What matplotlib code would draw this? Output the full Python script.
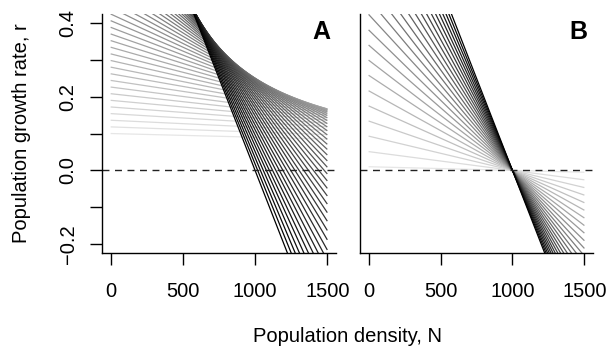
import numpy as np
import matplotlib
matplotlib.use("Agg")
import matplotlib.pyplot as plt

plt.rcParams['font.family'] = ['Liberation Sans', 'DejaVu Sans']

# Panel A: intercept r0 and carrying capacity K of each line (r0*K roughly const)
r0_a = [0.100, 0.118, 0.136, 0.154, 0.172, 0.190, 0.208, 0.226, 0.244, 0.262,
        0.280, 0.298, 0.316, 0.334, 0.352, 0.370, 0.388, 0.406, 0.424, 0.442,
        0.460, 0.478, 0.496, 0.514, 0.532, 0.550, 0.568, 0.586, 0.604, 0.622,
        0.640, 0.658, 0.676, 0.694, 0.712, 0.730, 0.748, 0.766, 0.784, 0.802,
        0.820, 0.838, 0.856, 0.874, 0.892, 0.910, 0.928, 0.946, 0.964, 0.982,
        1.000]
K_a = [10000, 8475, 7353, 6494, 5814, 5263, 4808, 4425, 4098, 3817,
       3571, 3356, 3165, 2994, 2841, 2703, 2577, 2463, 2358, 2262,
       2174, 2092, 2016, 1946, 1880, 1818, 1761, 1706, 1656, 1608,
       1563, 1520, 1479, 1441, 1404, 1370, 1337, 1305, 1276, 1247,
       1220, 1193, 1168, 1144, 1121, 1099, 1078, 1057, 1037, 1018,
       1000]

# Panel B: same K for all lines, intercept varies
r0_b = [0.010, 0.051, 0.093, 0.134, 0.175, 0.216, 0.258, 0.299, 0.340, 0.381,
        0.423, 0.464, 0.505, 0.546, 0.588, 0.629, 0.670, 0.711, 0.753, 0.794,
        0.835, 0.876, 0.918, 0.959, 1.000]
K_b = [1000] * 25

N = np.array([0, 1500])
xticks = [0, 500, 1000, 1500]
yticks = [-0.2, -0.1, 0.0, 0.1, 0.2, 0.3, 0.4]
ylabels = ['\u22120.2', '', '0.0', '', '0.2', '', '0.4']

fig = plt.figure(figsize=(6.07, 3.5), dpi=100)
ax_a = fig.add_axes([0.168, 0.277, 0.3855, 0.683])
ax_b = fig.add_axes([0.593, 0.277, 0.384, 0.683])


def draw_panel(ax, r0s, Ks, label):
    n = len(r0s)
    for i, (r0, K) in enumerate(zip(r0s, Ks)):
        g = 0.9 * (1 - i / (n - 1))
        ax.plot(N, r0 * (1 - N / K), color=(g, g, g), lw=0.9, solid_capstyle='butt')
    ax.axhline(0, color='#222222', lw=1.0, dashes=(5, 4))
    ax.set_xlim(-60, 1560)
    ax.set_ylim(-0.224, 0.424)
    for s in ['top', 'right']:
        ax.spines[s].set_visible(False)
    for s in ['left', 'bottom']:
        ax.spines[s].set_linewidth(1.0)
    ax.set_xticks(xticks)
    ax.set_xticklabels([str(t) for t in xticks])
    ax.tick_params(axis='x', direction='out', length=8.5, width=1.0, pad=12, labelsize=14.5)
    ax.text(0.975, 0.925, label, transform=ax.transAxes, ha='right', va='center',
            fontsize=18, fontweight='bold')


draw_panel(ax_a, r0_a, K_a, 'A')
draw_panel(ax_b, r0_b, K_b, 'B')

ax_a.set_yticks(yticks)
ax_a.set_yticklabels(ylabels, rotation=90, va='center')
ax_a.tick_params(axis='y', direction='out', length=8.5, width=1.0, pad=9, labelsize=14.5)
ax_b.set_yticks([])

fig.text(0.572, 1 - 337 / 350, 'Population density, N', ha='center', va='center', fontsize=14.5)
fig.text(22 / 607, 1 - 133 / 350, 'Population growth rate, r', ha='center', va='center',
         rotation=90, fontsize=14.5)

fig.savefig('out.png', dpi=100)
